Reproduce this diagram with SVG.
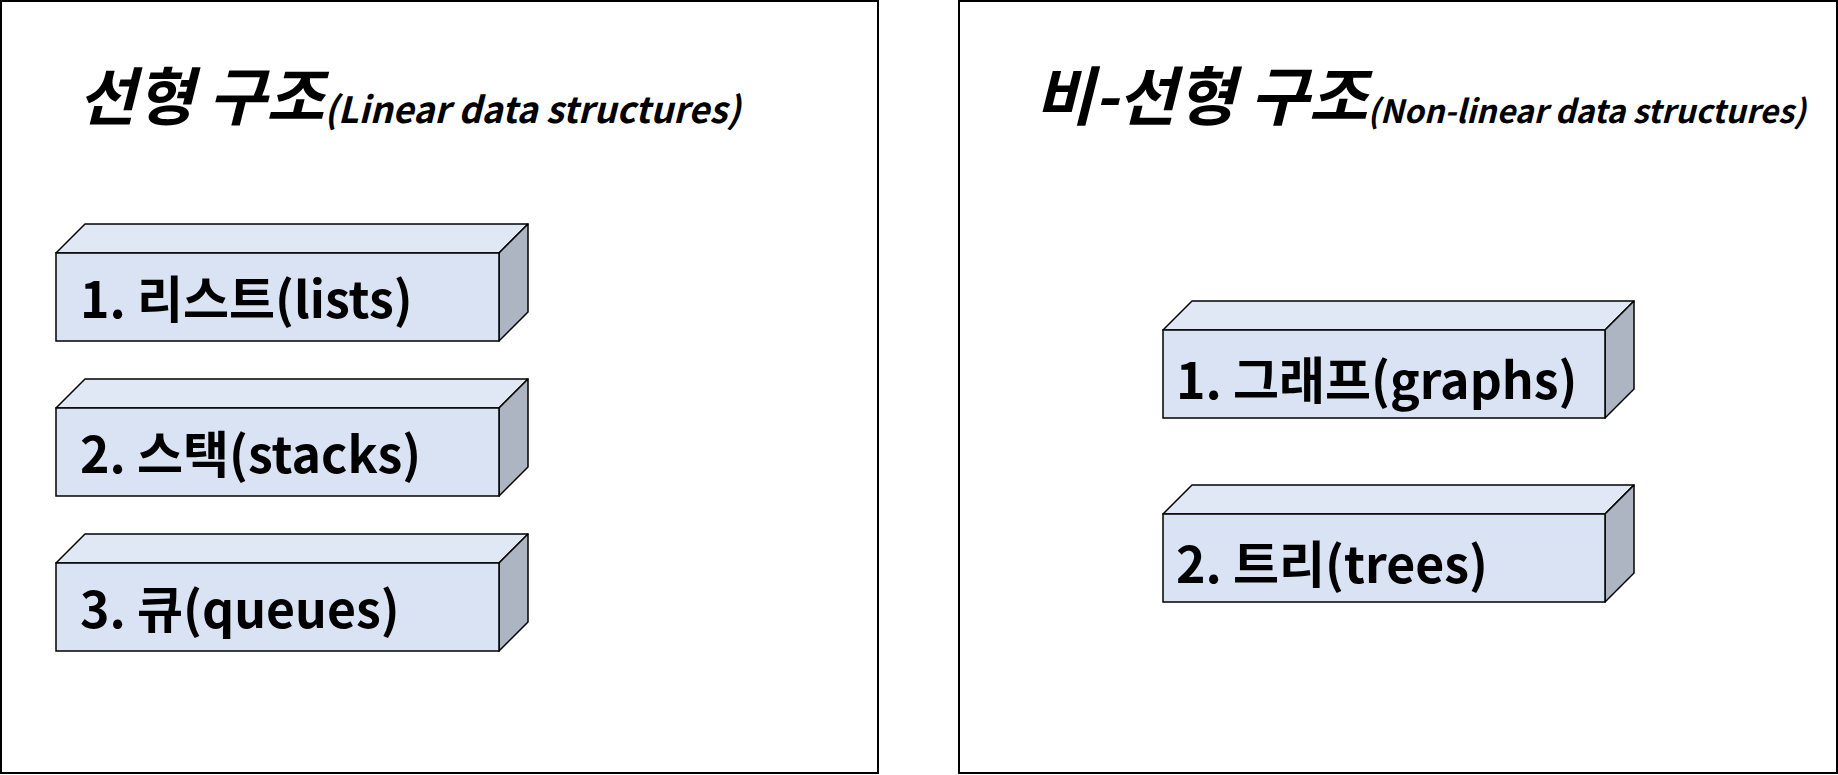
<svg xmlns="http://www.w3.org/2000/svg" width="1838" height="775" viewBox="0 0 1838 775">
<style>
.panel{fill:#ffffff;stroke:#000000;stroke-width:2}
.front{fill:#dae3f3;stroke:#000000;stroke-width:1.5}
.top{fill:#e1e8f5;stroke:#000000;stroke-width:1.5;stroke-linejoin:round}
.side{fill:#aeb5c2;stroke:#000000;stroke-width:1.5;stroke-linejoin:round}
.lbl{font-family:"Noto Sans CJK KR","Noto Sans",sans-serif;font-weight:bold;font-size:50px;fill:#000000}
.ttl{font-family:"Noto Sans CJK KR","Noto Sans",sans-serif;font-weight:bold;font-style:italic;fill:#000000}
</style>
<rect width="1838" height="775" fill="#ffffff"/>
<g id="panel-linear">
<rect class="panel" x="1" y="1" width="877" height="772"/>
<text class="ttl" x="78" y="120"><tspan font-size="63">선형 구조</tspan><tspan font-size="36" dy="3">(Linear data structures)</tspan></text>
</g>
<g id="panel-nonlinear">
<rect class="panel" x="959" y="1" width="878" height="772"/>
<text class="ttl" x="1035" y="120"><tspan font-size="64">비-선형 구조</tspan><tspan font-size="32" dy="3">(Non-linear data structures)</tspan></text>
</g>
<g id="node-lists">
<polygon class="top" points="56,253 85,224 528,224 499,253"/>
<polygon class="side" points="499,253 528,224 528,312 499,341"/>
<rect class="front" x="56" y="253" width="443" height="88"/>
<text class="lbl" x="80" y="318">1. 리스트(lists)</text>
</g>
<g id="node-stacks">
<polygon class="top" points="56,408 85,379 528,379 499,408"/>
<polygon class="side" points="499,408 528,379 528,467 499,496"/>
<rect class="front" x="56" y="408" width="443" height="88"/>
<text class="lbl" x="80" y="473">2. 스택(stacks)</text>
</g>
<g id="node-queues">
<polygon class="top" points="56,563 85,534 528,534 499,563"/>
<polygon class="side" points="499,563 528,534 528,622 499,651"/>
<rect class="front" x="56" y="563" width="443" height="88"/>
<text class="lbl" x="80" y="628">3. 큐(queues)</text>
</g>
<g id="node-graphs">
<polygon class="top" points="1163,330 1192,301 1634,301 1605,330"/>
<polygon class="side" points="1605,330 1634,301 1634,389 1605,418"/>
<rect class="front" x="1163" y="330" width="442" height="88"/>
<text class="lbl" x="1176" y="399">1. 그래프(graphs)</text>
</g>
<g id="node-trees">
<polygon class="top" points="1163,514 1192,485 1634,485 1605,514"/>
<polygon class="side" points="1605,514 1634,485 1634,573 1605,602"/>
<rect class="front" x="1163" y="514" width="442" height="88"/>
<text class="lbl" x="1176" y="583">2. 트리(trees)</text>
</g>
<g id="connectors"></g>
</svg>
